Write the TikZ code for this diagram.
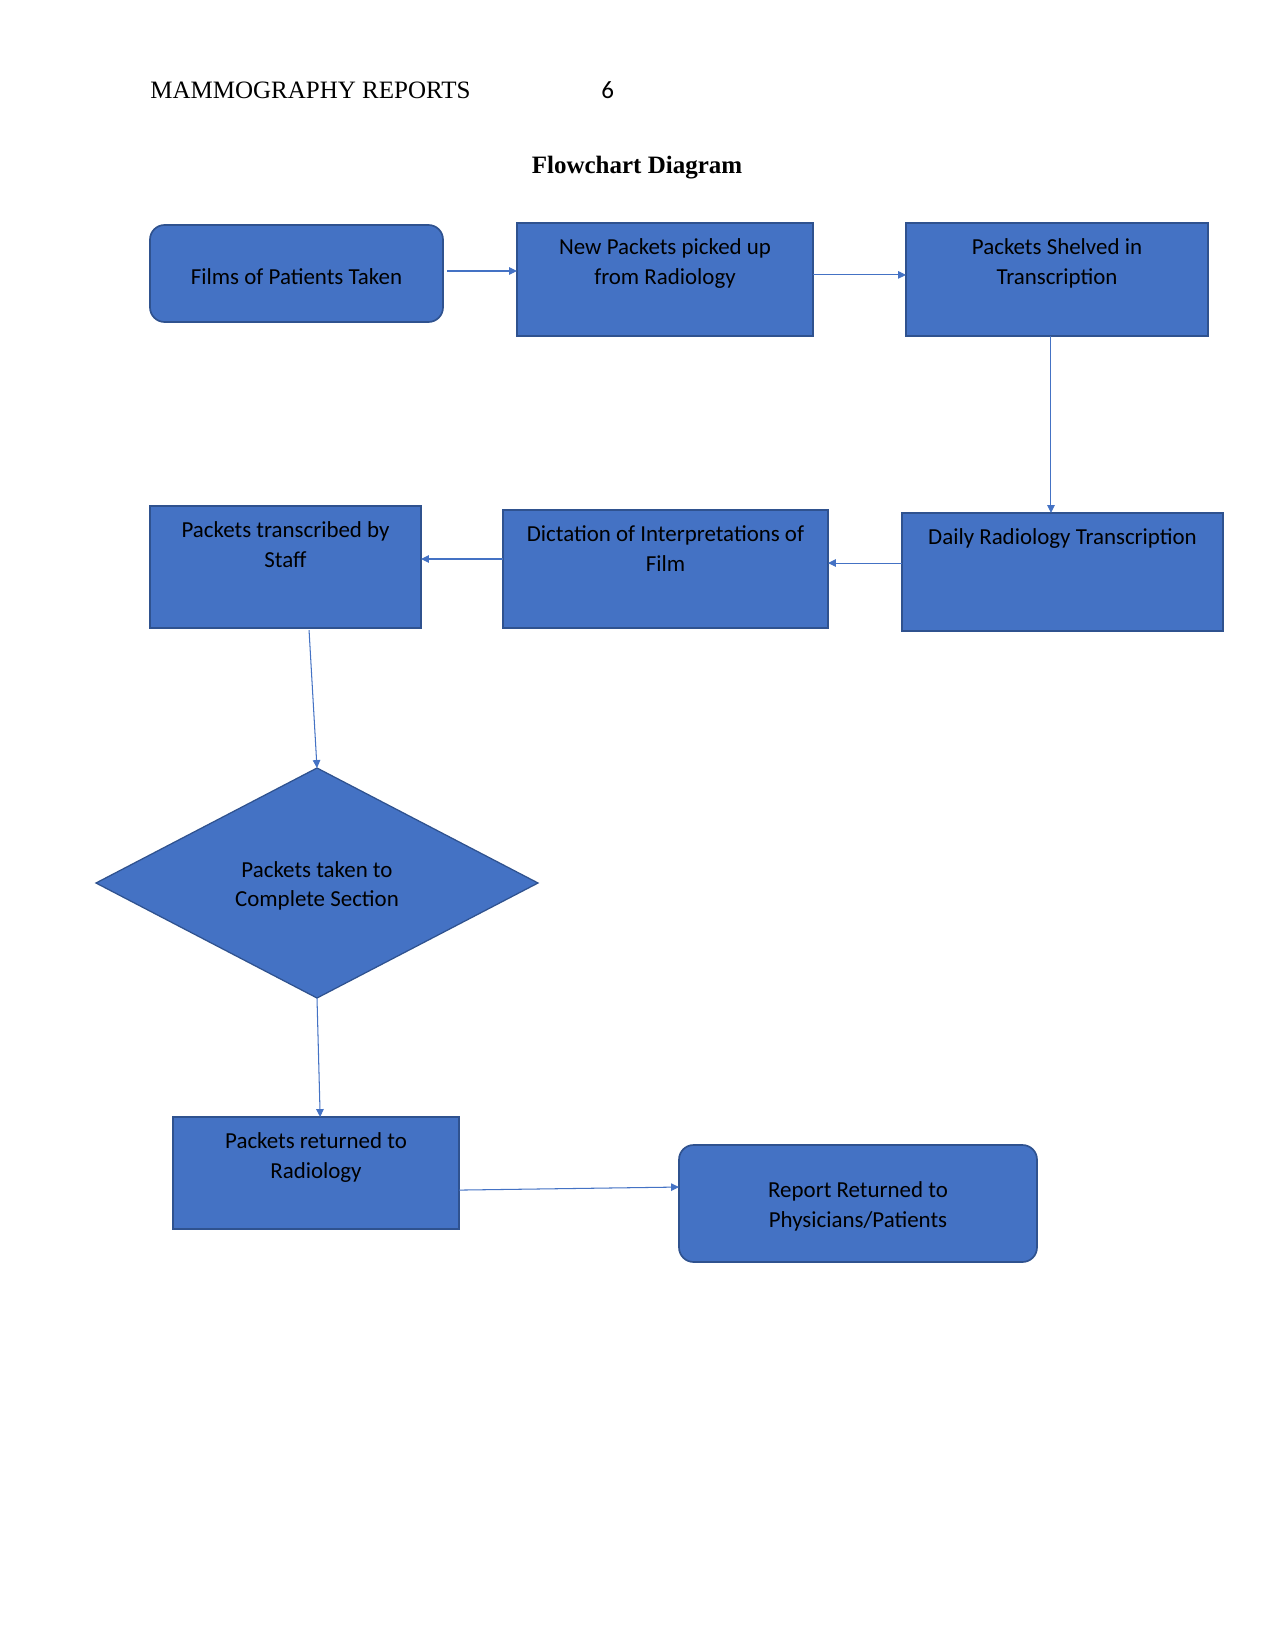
\documentclass[tikz,border=0pt]{standalone}
\usepackage{fontspec}
\setmainfont{Liberation Serif}
\newfontfamily\boxfont{Carlito}
\usetikzlibrary{shapes.geometric,arrows.meta,calc}
\definecolor{boxblue}{HTML}{4472C4}
\definecolor{boxline}{HTML}{2F528F}
\begin{document}
\begin{tikzpicture}[x=0.48pt,y=-0.48pt,
  box/.style={draw=boxline,fill=boxblue,line width=0.8pt,inner sep=0pt,outer sep=0pt},
  rbox/.style={box,rounded corners=7pt},
  btext/.style={font={\boxfont\fontsize{11}{14.2}\selectfont},align=center,inner sep=0pt,text=black},
  arr/.style={draw=boxblue,line width=0.5pt,-{Triangle[length=3.8pt,width=3.6pt]}}]
\useasboundingbox[fill=white] (0,0) rectangle (1275,1650);
% header
\node[anchor=base west,inner sep=0pt,font=\fontsize{12}{14}\selectfont] (hdr) at (150,99) {MAMMOGRAPHY REPORTS};
\node[anchor=base west,inner sep=0pt,font=\boxfont\fontsize{12}{14}\selectfont] (pg) at (601,99) {6};
\node[anchor=base,inner sep=0pt,font=\fontsize{12}{14}\selectfont\bfseries] (title) at (637,174) {Flowchart Diagram};
% boxes
\node[rbox,minimum width=293*0.48pt,minimum height=97*0.48pt] (films) at (296.5,273.5) {};
\node[btext] (filmst) at ($(films.center)+(0,3)$) {Films of Patients Taken};
\node[box,minimum width=296*0.48pt,minimum height=113*0.48pt] (new) at (665,279.5) {};
\node[btext,anchor=north] (newt) at ($(new.north)+(0,15.5)$) {New Packets picked up\\from Radiology};
\node[box,minimum width=302*0.48pt,minimum height=113*0.48pt] (shelved) at (1057,279.5) {};
\node[btext,anchor=north] (shelvedt) at ($(shelved.north)+(0,15.5)$) {Packets Shelved in\\Transcription};
\node[box,minimum width=321*0.48pt,minimum height=118*0.48pt] (daily) at (1062.5,572) {};
\node[btext,anchor=north] (dailyt) at ($(daily.north)+(0,15.5)$) {Daily Radiology Transcription};
\node[box,minimum width=325*0.48pt,minimum height=118*0.48pt] (dict) at (665.5,569) {};
\node[btext,anchor=north] (dictt) at ($(dict.north)+(0,15.5)$) {Dictation of Interpretations of\\Film};
\node[box,minimum width=271*0.48pt,minimum height=122*0.48pt] (trans) at (285.5,567) {};
\node[btext,anchor=north] (transt) at ($(trans.north)+(0,15.5)$) {Packets transcribed by\\Staff};
\node[diamond,draw=boxline,fill=boxblue,line width=0.6pt,inner sep=0pt,outer sep=0pt,aspect=1.92,
  minimum width=442*0.48pt,minimum height=230*0.48pt] (dia) at (317,883) {};
\node[btext] (diat) at (317,886) {Packets taken to\\Complete Section};
\node[box,minimum width=286*0.48pt,minimum height=112*0.48pt] (ret) at (316,1173) {};
\node[btext,anchor=north] (rett) at ($(ret.north)+(0,15.5)$) {Packets returned to\\Radiology};
\node[rbox,minimum width=358*0.48pt,minimum height=117*0.48pt] (rep) at (858,1203.5) {};
\node[btext] (rept) at ($(rep.center)+(0,3)$) {Report Returned to\\Physicians/Patients};
% connectors
\draw[arr] ([xshift=2pt,yshift=1.2pt]films.east) -- ([yshift=1.2pt]films.east -| new.west);
\draw[arr] ([yshift=2.2pt]new.east) -- ([yshift=2.2pt]new.east -| shelved.west);
\draw[arr] ([xshift=-2.9pt]shelved.south) -- ([xshift=-2.9pt]shelved.south |- daily.north);
\draw[arr] ([yshift=4.3pt]daily.west) -- ([yshift=4.3pt]daily.west -| dict.east);
\draw[arr] ([yshift=4.8pt]dict.west) -- ([yshift=4.8pt]dict.west -| trans.east);
\draw[arr] ([xshift=11.3pt,yshift=-1pt]trans.south) -- (dia.north);
\draw[arr] (dia.south) -- ([xshift=2pt]ret.north);
\draw[arr] ([yshift=-8.2pt]ret.east) -- ([yshift=7.9pt]rep.west);
\end{tikzpicture}
\end{document}
